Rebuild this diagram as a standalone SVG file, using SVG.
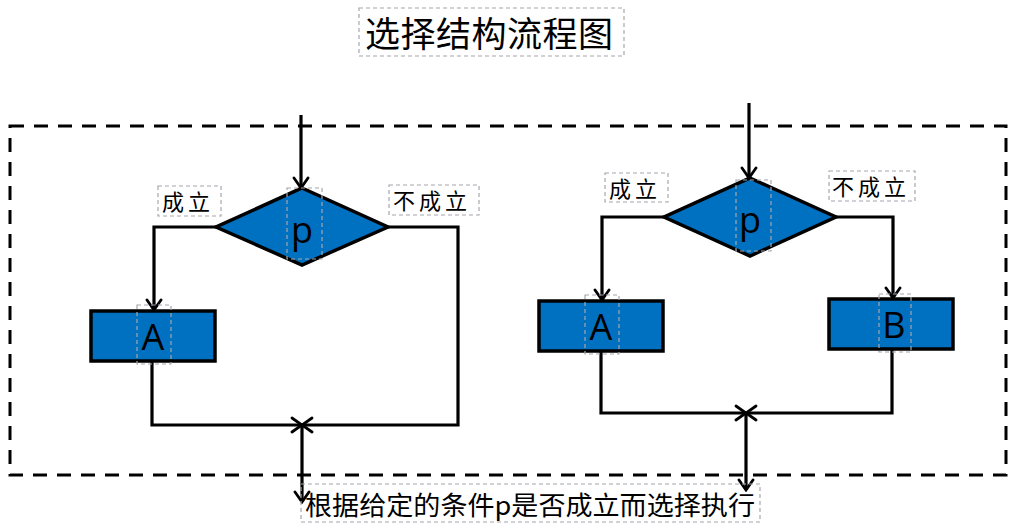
<svg xmlns="http://www.w3.org/2000/svg" width="1017" height="532" viewBox="0 0 1017 532">
<style>
.shape{fill:#0070C0;stroke:#000;stroke-width:3.5}
.conn{fill:none;stroke:#000;stroke-width:3.2;marker-end:url(#arr)}
.tb{fill:none;stroke:#A6A6AE;stroke-width:1.2;stroke-dasharray:4 3}
.cjk{font-family:"Noto Sans CJK SC","Noto Sans",sans-serif;fill:#000}
.lab{font-family:"Noto Sans CJK SC",sans-serif;font-size:22px;letter-spacing:4px;fill:#000}
.big{font-family:"Open Sans","Liberation Sans",sans-serif;font-size:36px;fill:#000;text-anchor:middle}
</style>
<defs>
<marker id="arr" viewBox="-13 -9 15 18" markerWidth="15" markerHeight="18" refX="0" refY="0" orient="auto" markerUnits="userSpaceOnUse">
<path d="M-10,-7 L0,0 L-10,7" fill="none" stroke="#000" stroke-width="2.8" stroke-linecap="round" stroke-linejoin="miter"/>
</marker>
</defs>
<rect width="1017" height="532" fill="#fff"/>
<g id="title">
<rect class="tb" x="359" y="8" width="265" height="48"/>
<text class="cjk" x="489" y="47" font-size="35" text-anchor="middle" textLength="248" lengthAdjust="spacing">选择结构流程图</text>
</g>
<g id="frame">
<rect x="10" y="126" width="996" height="349" fill="none" stroke="#000" stroke-width="3" stroke-dasharray="14 10"/>
</g>
<g id="connectors">
<path class="conn" d="M301,115 V188"/>
<path class="conn" d="M217,227 H154 V310"/>
<path class="conn" d="M388,227 H458 V425 H302"/>
<path class="conn" d="M152,361 V425 H302"/>
<path class="conn" d="M302,425 V502"/>
<path class="conn" d="M749,103 V178"/>
<path class="conn" d="M664,217 H602 V300"/>
<path class="conn" d="M836,217 H893 V298"/>
<path class="conn" d="M601,351 V413 H746"/>
<path class="conn" d="M892,349 V413 H746"/>
<path class="conn" d="M746,413 V490"/>
</g>
<g id="p1">
<polygon class="shape" points="302,188 388,227 302,265 216,227"/>
<rect class="tb" x="287" y="188" width="35" height="71"/>
<text class="big" x="302" y="243">p</text>
</g>
<g id="yes1">
<rect class="tb" x="158" y="186" width="63" height="30"/>
<text class="lab" x="162" y="210">成立</text>
</g>
<g id="no1">
<rect class="tb" x="389" y="185" width="90" height="30"/>
<text class="lab" x="393" y="209">不成立</text>
</g>
<g id="a1">
<rect class="shape" x="91" y="311" width="124" height="50"/>
<rect class="tb" x="137" y="305" width="34" height="59"/>
<text class="big" x="153" y="350">A</text>
</g>
<g id="p2">
<polygon class="shape" points="750,178 836,217 750,256 664,217"/>
<rect class="tb" x="736" y="180" width="35" height="71"/>
<text class="big" x="750" y="233">p</text>
</g>
<g id="yes2">
<rect class="tb" x="605" y="173" width="63" height="29"/>
<text class="lab" x="609" y="197">成立</text>
</g>
<g id="no2">
<rect class="tb" x="829" y="171" width="86" height="30"/>
<text class="lab" x="832" y="195">不成立</text>
</g>
<g id="a2">
<rect class="shape" x="539" y="301" width="124" height="50"/>
<rect class="tb" x="585" y="295" width="34" height="59"/>
<text class="big" x="601" y="340">A</text>
</g>
<g id="b2">
<rect class="shape" x="829" y="299" width="124" height="50"/>
<rect class="tb" x="879" y="294" width="32" height="58"/>
<text class="big" x="894" y="338">B</text>
</g>
<g id="caption">
<rect class="tb" x="301" y="484" width="459" height="38"/>
<text class="cjk" x="305" y="515" font-size="26" textLength="450" lengthAdjust="spacingAndGlyphs">根据给定的条件p是否成立而选择执行</text>
</g>
</svg>
